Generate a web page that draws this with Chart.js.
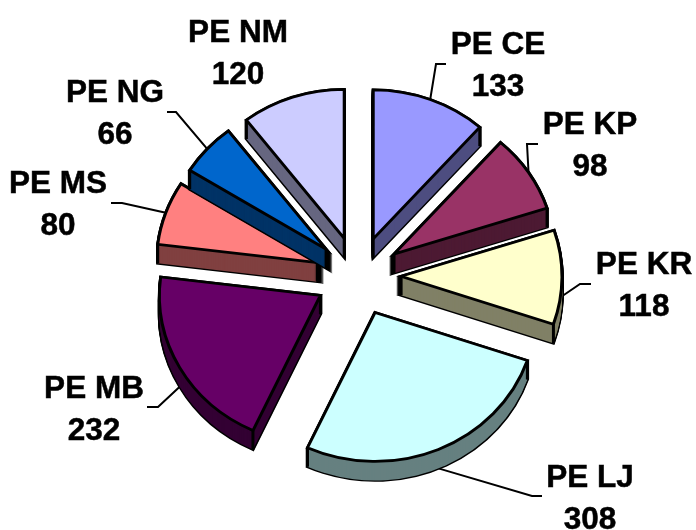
<!DOCTYPE html>
<html><head><meta charset="utf-8">
<style>html,body{margin:0;padding:0;background:#fff}#w{width:696px;height:530px}</style>
<script src="https://cdn.jsdelivr.net/npm/chart.js@4"></script>
</head><body><div id="w"><canvas id="c" width="696" height="530"></canvas></div>
<script>
const categories = ['PE CE','PE KP','PE KR','PE LJ','PE MB','PE MS','PE NG','PE NM'];
const values = [133,98,118,308,232,80,66,120];
const topColors = ['#9999FF','#993366','#FFFFCC','#CCFFFF','#660066','#FF8080','#0066CC','#CCCCFF'];
const sideColors = ['#4D4D80','#4D1A33','#808066','#668080','#330033','#804040','#003366','#666680'];
// label centre x, first-line baseline y
const labelX = [498,590,644,590,94,58,115,238];
const labelY = [54,134,274,487,398,193,102,42];
// leader: elbow and end in page px (null = none)
const leaders = [[[436,64],[446,64]],[[527,144],[538,144]],[[580,284],[591,284]],[[532,496],[542,496]],[[158,407],[147,407]],[[122,203],[111,203]],[[176,112],[167,112]],null];

const SQUASH = 0.925, EXPLODE = 43, DEPTH = 19, LW = 3, LINE_GAP = 41.5;

class Pie3D extends Chart.DoughnutController {
  draw() {
    const ctx = this.chart.ctx, arcs = this._cachedMeta.data;
    arcs.forEach((arc) => {
      const i = arc.$context.dataIndex;
      const p = arc.getProps(['x','y','startAngle','endAngle','outerRadius']);
      const mid = (p.startAngle + p.endAngle) / 2;
      const ex = Math.cos(mid) * EXPLODE, ey = Math.sin(mid) * EXPLODE;
      const wedge = (d) => {
        ctx.beginPath();
        const x = p.x + ex, y = p.y + ey + d / SQUASH;
        ctx.moveTo(x, y);
        ctx.arc(x, y, p.outerRadius, p.startAngle, p.endAngle);
        ctx.closePath();
      };
      ctx.save();
      ctx.translate(p.x, p.y); ctx.scale(1, SQUASH); ctx.translate(-p.x, -p.y);
      ctx.lineJoin = 'miter'; ctx.lineWidth = LW; ctx.strokeStyle = '#000';
      for (let d = DEPTH; d >= 0; d--) { wedge(d); ctx.stroke(); }
      ctx.fillStyle = sideColors[i];
      for (let d = DEPTH; d >= 0; d--) { wedge(d); ctx.fill(); }
      // vertical corner edges, only where the edge is not hidden behind the top face
      const ox = p.x + ex, oy = p.y + ey;
      const corners = [[ox, oy],
        [ox + Math.cos(p.startAngle) * p.outerRadius, oy + Math.sin(p.startAngle) * p.outerRadius],
        [ox + Math.cos(p.endAngle) * p.outerRadius, oy + Math.sin(p.endAngle) * p.outerRadius]];
      wedge(0);
      const hidden = corners.map(([cx, cy]) =>
        ctx.isPointInPath(cx, p.y + (cy - p.y) * SQUASH + DEPTH));
      corners.forEach(([cx, cy], k) => {
        if (hidden[k]) return;
        ctx.beginPath(); ctx.moveTo(cx, cy); ctx.lineTo(cx, cy + DEPTH / SQUASH); ctx.stroke();
      });
      ctx.translate(ex, ey);
      arc.draw(ctx);
      ctx.restore();
    });
  }
}
Pie3D.id = 'pie3d';
Pie3D.defaults = Chart.DoughnutController.defaults;
Chart.register(Pie3D);

const labelsPlugin = {
  id: 'labels3d',
  beforeDatasetsDraw(chart) {
    const ctx = chart.ctx, arcs = chart.getDatasetMeta(0).data;
    ctx.save();
    arcs.forEach((arc, i) => {
      if (!leaders[i]) return;
      const p = arc.getProps(['x','y','startAngle','endAngle','outerRadius']);
      const mid = (p.startAngle + p.endAngle) / 2;
      const r = p.outerRadius + EXPLODE;
      const lift = Math.sin(mid) >= 0 ? DEPTH : 0;
      ctx.beginPath();
      ctx.moveTo(p.x + Math.cos(mid) * r, p.y + Math.sin(mid) * r * SQUASH + lift);
      leaders[i].forEach(([x, y]) => ctx.lineTo(x, y));
      ctx.strokeStyle = '#000'; ctx.lineWidth = 2; ctx.stroke();
    });
    ctx.restore();
  },
  afterDraw(chart) {
    const ctx = chart.ctx;
    ctx.save();
    ctx.fillStyle = '#000'; ctx.strokeStyle = '#000'; ctx.lineWidth = 0.5;
    ctx.font = 'bold 31.5px "Liberation Sans", Arial, sans-serif';
    ctx.textAlign = 'center'; ctx.textBaseline = 'alphabetic';
    categories.forEach((name, i) => {
      ctx.fillText(name, labelX[i], labelY[i]);
      ctx.strokeText(name, labelX[i], labelY[i]);
      ctx.fillText(String(values[i]), labelX[i], labelY[i] + LINE_GAP);
      ctx.strokeText(String(values[i]), labelX[i], labelY[i] + LINE_GAP);
    });
    ctx.restore();
  }
};

new Chart(document.getElementById('c'), {
  type: 'pie3d',
  data: { labels: categories, datasets: [{ data: values, backgroundColor: topColors, borderColor: '#000', borderWidth: LW, borderJoinStyle: 'miter' }] },
  options: {
    responsive: false, animation: false,
    radius: 161, cutout: 0,
    layout: { padding: { left: 20, top: 22 } },
    plugins: { legend: { display: false }, tooltip: { enabled: false } }
  },
  plugins: [labelsPlugin]
});
</script></body></html>
